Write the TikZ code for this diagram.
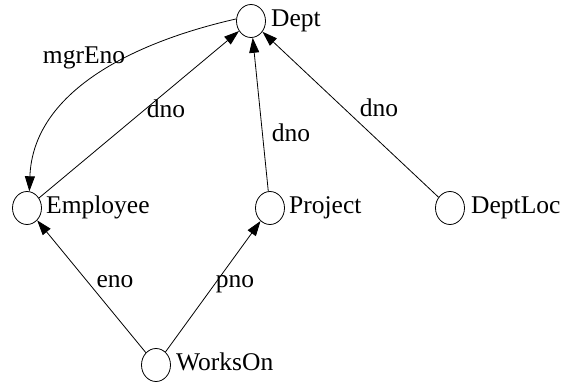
\documentclass[tikz,border=0pt]{standalone}
\usepackage{fontspec}
\setmainfont{Liberation Serif}
\usetikzlibrary{arrows.meta,shapes.geometric,calc}
\begin{document}
\begin{tikzpicture}[x=1pt,y=1pt,
  ent/.style={draw, ellipse, minimum width=29pt, minimum height=33pt, inner sep=0pt, line width=0.8pt, fill=white},
  txt/.style={font=\fontsize{25.5}{30}\selectfont, inner sep=0pt, anchor=base west},
  lbl/.style={font=\fontsize{25.5}{30}\selectfont, inner sep=0pt, anchor=base},
  conn/.style={line width=0.8pt, -{Triangle[length=15pt,width=10pt]}}]
\useasboundingbox (0,0) rectangle (563,383);
\node[ent] (dept) at (251,362) {};
\node[ent] (emp) at (27,175) {};
\node[ent] (proj) at (270,175) {};
\node[ent] (loc) at (450,175) {};
\node[ent] (works) at (156,18) {};
\node[txt] (deptT) at ($(dept.center)+(20,-6)$) {Dept};
\node[txt] (empT) at ($(emp.center)+(19,-6)$) {Employee};
\node[txt] (projT) at ($(proj.center)+(19,-6)$) {Project};
\node[txt] (locT) at ($(loc.center)+(21,-6)$) {DeptLoc};
\node[txt] (worksT) at ($(works.center)+(20,-6)$) {WorksOn};
\draw[conn] (emp) -- (dept);
\draw[conn] (proj) -- (dept);
\draw[conn] (loc) -- (dept);
\draw[conn] (works) -- (emp);
\draw[conn] (works) -- (proj);
\draw[conn] (dept.172) .. controls (130,340) and (33,290) .. (emp.82);
\node[lbl] (l1) at (84,319) {mgrEno};
\node[lbl] (l2) at (166,265) {dno};
\node[lbl] (l3) at (291,241) {dno};
\node[lbl] (l4) at (379,266) {dno};
\node[lbl] (l5) at (115,95) {eno};
\node[lbl] (l6) at (235,95) {pno};
\end{tikzpicture}
\end{document}
